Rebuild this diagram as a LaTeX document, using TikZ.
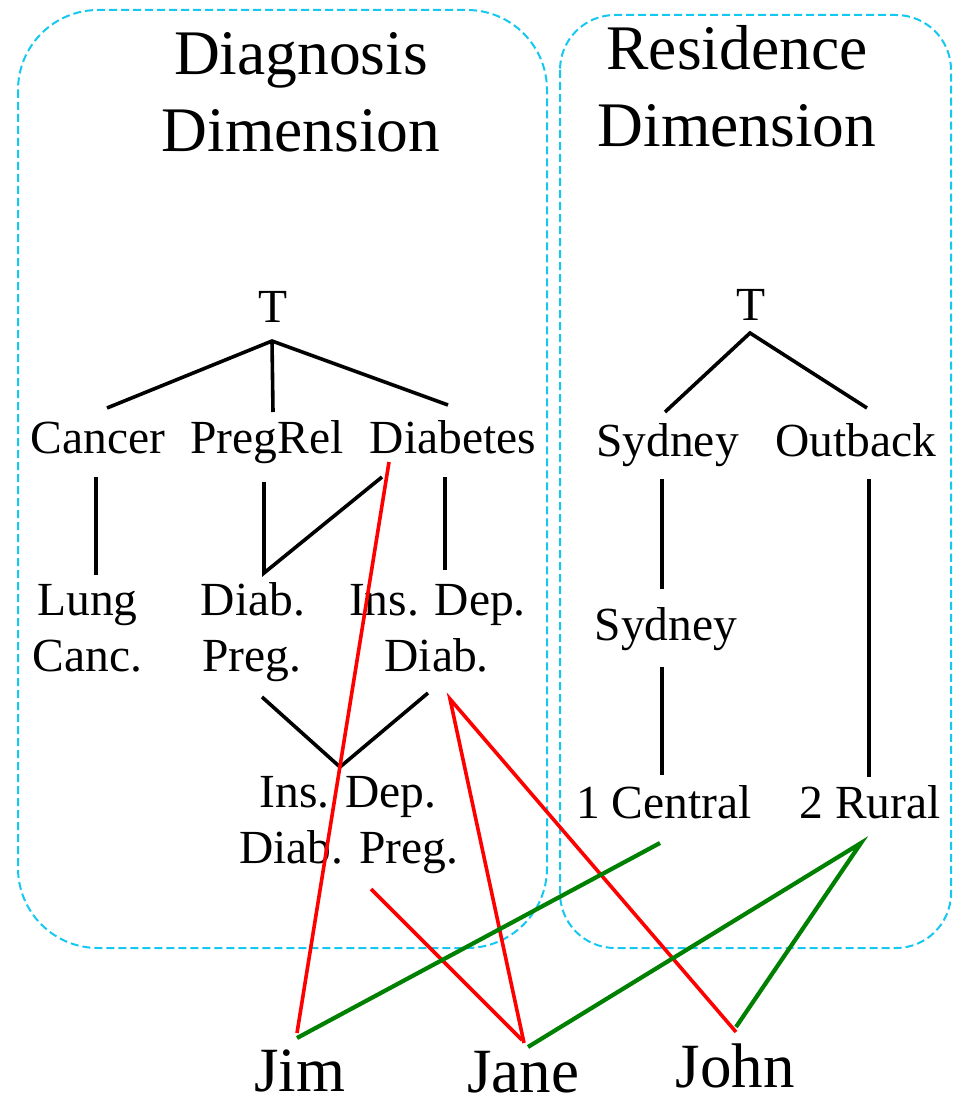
\documentclass[tikz,border=0pt]{standalone}
\usepackage{fontspec}
\setmainfont{Liberation Serif}
\definecolor{dimcyan}{RGB}{20,200,240}
\definecolor{linkgreen}{RGB}{0,128,0}
\definecolor{linkred}{RGB}{255,0,0}
\tikzset{
  title/.style={font=\fontsize{63.5}{76}\selectfont, anchor=base, inner sep=0pt},
  lbl/.style={font=\fontsize{47.5}{56}\selectfont, anchor=base, inner sep=0pt},
  person/.style={font=\fontsize{63}{76}\selectfont, anchor=base, inner sep=0pt},
  edge/.style={draw=black, line width=3.6pt},
  redlink/.style={draw=linkred, line width=3.6pt},
  greenlink/.style={draw=linkgreen, line width=4.2pt},
  dimbox/.style={draw=dimcyan, dash pattern=on 8pt off 4pt, line width=2pt}
}
\begin{document}
\begin{tikzpicture}[x=1pt,y=-1pt]
\useasboundingbox (0,0) rectangle (955,1094);

% dimension frames
\draw[dimbox, rounded corners=80pt] (18,10) rectangle (547,948);
\draw[dimbox, rounded corners=55pt] (560,15) rectangle (951,948);

% titles
\node[title] (dtitle1) at (301,75) {Diagnosis};
\node[title] (dtitle2) at (301,152) {Dimension};
\node[title] (rtitle1) at (737,70) {Residence};
\node[title] (rtitle2) at (737,147) {Dimension};

% diagnosis tree labels
\node[lbl] (dT) at (273,322) {T};
\node[lbl] (cancer) at (98,453) {Cancer};
\node[lbl] (pregrel) at (267,453) {PregRel};
\node[lbl] (diabetes) at (453,453) {Diabetes};
\node[lbl] (lung1) at (87.5,615) {Lung};
\node[lbl] (lung2) at (87.5,671) {Canc.};
\node[lbl] (dpreg1) at (253,615) {Diab.};
\node[lbl] (dpreg2) at (252,671) {Preg.};
\node[lbl] (idd1) at (437.5,615) {Ins. Dep.};
\node[lbl] (idd2) at (436.6,671) {Diab.};
\node[lbl] (iddp1) at (348,807) {Ins. Dep.};
\node[lbl] (iddp2) at (348.6,863) {Diab. Preg.};

% residence tree labels
\node[lbl] (rT) at (751,320) {T};
\node[lbl] (sydney) at (667.5,456) {Sydney};
\node[lbl] (outback) at (856,456) {Outback};
\node[lbl] (sydney2) at (666,640) {Sydney};
\node[lbl] (central) at (664,818) {1 Central};
\node[lbl] (rural) at (870,818) {2 Rural};

% people
\node[person] (jim) at (300,1091) {Jim};
\node[person] (jane) at (523,1092) {Jane};
\node[person] (john) at (735,1087) {John};

% connector end points
\coordinate (dTj) at (272,341);
\coordinate (cancerN) at (107,408);
\coordinate (pregrelN) at (273,412);
\coordinate (diabetesN) at (448,405);
\coordinate (cancerS) at (96,477);
\coordinate (lungN) at (96,575);
\coordinate (pregrelS) at (264,482);
\coordinate (dpregN) at (264,573);
\coordinate (diabetesSW) at (382,477);
\coordinate (diabetesS) at (445,477);
\coordinate (iddN) at (445,570);
\coordinate (dpregS) at (262,697);
\coordinate (iddpN) at (340,767);
\coordinate (iddS) at (428,693);

\coordinate (rTj) at (750,333);
\coordinate (sydneyN) at (665,412);
\coordinate (outbackN) at (867,408);
\coordinate (sydneyS) at (662,479);
\coordinate (sydney2N) at (662,589);
\coordinate (sydney2S) at (662,667);
\coordinate (centralN) at (662,775);
\coordinate (outbackS) at (869,479);
\coordinate (ruralN) at (869,777);

\coordinate (diabetesR) at (389,462);
\coordinate (iddR) at (450,699);
\coordinate (iddpR) at (371,889);
\coordinate (centralG) at (660,843);
\coordinate (ruralG) at (861,843);
\coordinate (jimR) at (297,1033);
\coordinate (jimG) at (297,1038);
\coordinate (janeR) at (524,1043);
\coordinate (janeR2) at (522,1040);
\coordinate (janeG) at (528,1047);
\coordinate (johnR) at (736,1032);
\coordinate (johnG) at (736,1027);

% diagnosis hierarchy
\draw[edge] (cancerN) -- (dTj) -- (diabetesN);
\draw[edge] (dTj) -- (pregrelN);
\draw[edge] (cancerS) -- (lungN);
\draw[edge] (pregrelS) -- (dpregN) -- (diabetesSW);
\draw[edge] (diabetesS) -- (iddN);
\draw[edge] (dpregS) -- (iddpN) -- (iddS);

% residence hierarchy
\draw[edge] (sydneyN) -- (rTj) -- (outbackN);
\draw[edge] (sydneyS) -- (sydney2N);
\draw[edge] (sydney2S) -- (centralN);
\draw[edge] (outbackS) -- (ruralN);

% links
\draw[redlink] (diabetesR) -- (jimR);
\draw[redlink] (janeR) -- (iddR) -- (johnR);
\draw[redlink] (iddpR) -- (janeR2);
\draw[greenlink] (centralG) -- (jimG);
\draw[greenlink] (janeG) -- (ruralG) -- (johnG);
\end{tikzpicture}
\end{document}
